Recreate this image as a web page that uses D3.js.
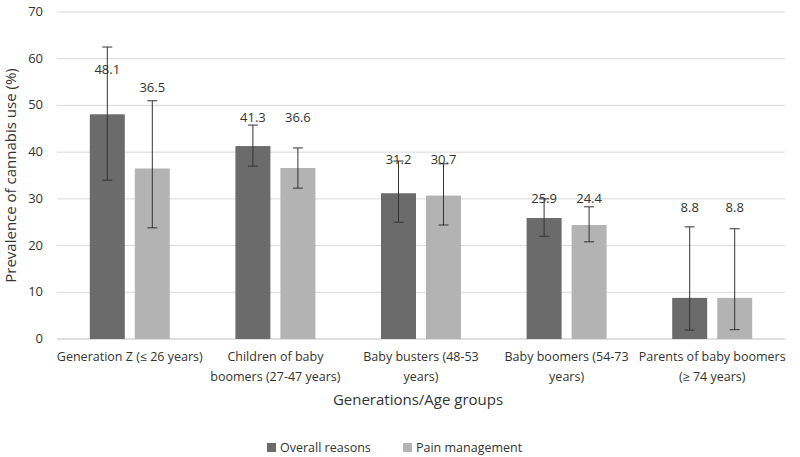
<!DOCTYPE html>
<html><head><meta charset="utf-8">
<script src="https://cdn.jsdelivr.net/npm/d3@7"></script>
<style>body{margin:0;background:#fff}text{font-family:"Open Sans",Calibri,sans-serif}</style>
</head><body><svg id="c" width="800" height="457"></svg>
<script>
const categories=[["Generation Z (≤ 26 years)"],["Children of baby","boomers (27-47 years)"],["Baby busters (48-53","years)"],["Baby boomers (54-73","years)"],["Parents of baby boomers","(≥ 74 years)"]];
const series=["Overall reasons","Pain management"];
const overall=[48.1,41.3,31.2,25.9,8.8];
const pain=[36.5,36.6,30.7,24.4,8.8];
const overallHi=[62.5,45.8,38.1,30.0,24.0];
const overallLo=[34.0,37.0,25.0,22.0,1.9];
const painHi=[51.0,40.9,37.5,28.3,23.6];
const painLo=[23.8,32.3,24.4,20.8,2.0];
const overallLabelAt=[57.6,47.3,38.3,30.0,28.0];
const painLabelAt=[53.7,47.3,38.3,30.0,28.0];
const yTicks=[0,10,20,30,40,50,60,70];
const colors=["#6b6b6b","#b3b3b3"];

const svg=d3.select("#c");
const L=57,R=785,T=12,B=339;
const y=d3.scaleLinear().domain([0,70]).range([B,T]);
const x=d3.scaleBand().domain(d3.range(5)).range([L,R]);
const W=x.bandwidth(),bw=35,gap=10,off=(W-2*bw-gap)/2;
svg.append("g").selectAll("line").data(yTicks).join("line")
 .attr("x1",L).attr("x2",R).attr("y1",d=>y(d)).attr("y2",d=>y(d))
 .attr("stroke",d=>d===0?"#bfbfbf":"#d9d9d9");
svg.append("g").selectAll("text").data(yTicks).join("text")
 .attr("x",L-14).attr("y",d=>y(d)+4).attr("text-anchor","end").attr("font-size",13).attr("fill","#333").text(d=>d);
const data=[[overall,overallHi,overallLo,overallLabelAt],[pain,painHi,painLo,painLabelAt]];
data.forEach(([v,hi,lo,la],s)=>{
 const g=svg.append("g");
 d3.range(5).forEach(i=>{
  const bx=x(i)+off+s*(bw+gap),cx=bx+bw/2;
  g.append("rect").attr("x",bx).attr("width",bw).attr("y",y(v[i])).attr("height",B-y(v[i])).attr("fill",colors[s]);
  g.append("line").attr("x1",cx).attr("x2",cx).attr("y1",y(hi[i])).attr("y2",y(lo[i])).attr("stroke","#333");
  [hi[i],lo[i]].forEach(t=>g.append("line").attr("x1",cx-5).attr("x2",cx+5).attr("y1",y(t)).attr("y2",y(t)).attr("stroke","#333"));
  g.append("text").attr("x",cx).attr("y",y(la[i])+4).attr("text-anchor","middle").attr("font-size",13).attr("fill","#333").text(v[i].toFixed(1));
 });
});
svg.append("g").selectAll("text").data(categories).join("text")
 .attr("x",(d,i)=>x(i)+W/2).attr("y",361).attr("text-anchor","middle").attr("font-size",12.5).attr("fill","#333")
 .each(function(d){d.forEach((t,k)=>d3.select(this).append("tspan").attr("x",this.getAttribute("x")).attr("dy",k?20:0).text(t));});
svg.append("text").attr("x",(L+R)/2-3).attr("y",405).attr("text-anchor","middle").attr("font-size",15).attr("fill","#333").text("Generations/Age groups");
svg.append("text").attr("transform",`translate(16,${(T+B)/2}) rotate(-90)`).attr("text-anchor","middle").attr("font-size",15).attr("fill","#333").text("Prevalence of cannabis use (%)");
const lg=svg.append("g");
[[267,0],[403,1]].forEach(([lx,s])=>{
 lg.append("rect").attr("x",lx).attr("y",443).attr("width",9).attr("height",9).attr("fill",colors[s]);
 lg.append("text").attr("x",lx+13).attr("y",452).attr("font-size",12.5).attr("fill","#333").text(series[s]);
});
</script></body></html>
